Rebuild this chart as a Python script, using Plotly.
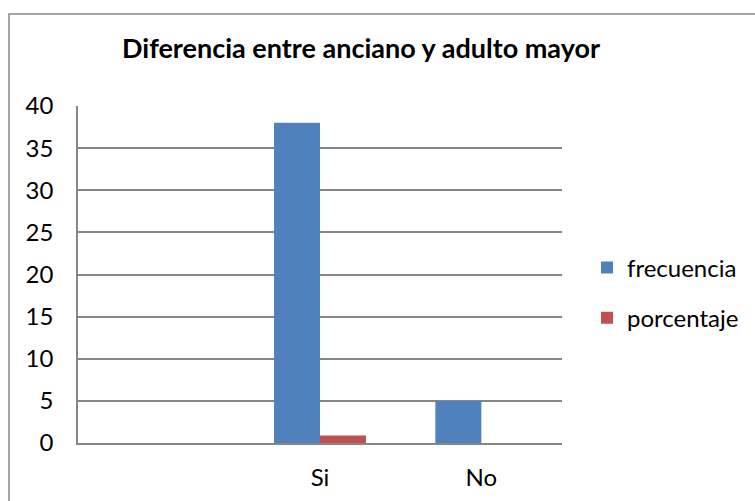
import plotly.graph_objects as go

categories = ["", "Si", "No"]
frecuencia = [None, 38, 5]
porcentaje = [None, 0.88, 0]
y_ticks = [0, 5, 10, 15, 20, 25, 30, 35, 40]

xpos = list(range(len(categories)))

fig = go.Figure()
fig.add_trace(go.Bar(x=xpos, y=frecuencia, name="frecuencia",
                     marker=dict(color="#4F81BD", line=dict(width=0)),
                     legendgroup="a"))
fig.add_trace(go.Bar(x=xpos, y=porcentaje, name="porcentaje",
                     marker=dict(color="#C0504D", line=dict(width=0)),
                     legendgroup="b"))

W, H = 755, 501
L, R, T, B = 78, 193, 106, 58
pw, ph = W - L - R, H - T - B

fig.update_layout(
    width=W, height=H,
    margin=dict(l=L, r=R, t=T, b=B, autoexpand=False),
    paper_bgcolor="white", plot_bgcolor="white",
    font=dict(family="Lato", size=24, color="black"),
    barmode="group", bargap=0.43, bargroupgap=0,
    title=dict(text="<b>Diferencia entre anciano y adulto mayor</b>",
               x=361 / W, xanchor="center", y=1 - 49 / H, yanchor="middle",
               font=dict(family="Lato", size=27, color="black")),
    showlegend=True,
    legend=dict(xref="container", yref="container",
                x=587 / W, xanchor="left", y=1 - 293 / H, yanchor="middle",
                traceorder="grouped", tracegroupgap=16,
                font=dict(size=24), bgcolor="rgba(0,0,0,0)"),
    xaxis=dict(range=[-0.5, len(categories) - 0.5],
               tickmode="array", tickvals=xpos, ticktext=categories,
               showline=True, linecolor="#868686", linewidth=1.5,
               showgrid=False, zeroline=False, ticks="", ticklabelstandoff=12),
    yaxis=dict(range=[0, 40], tickmode="array", tickvals=y_ticks,
               showline=True, linecolor="#868686", linewidth=1.5,
               showgrid=True, gridcolor="#868686", gridwidth=1.5,
               zeroline=False, ticks="", ticklabelstandoff=18),
    shapes=[dict(type="rect", xref="paper", yref="paper",
                 x0=(9 - L) / pw, x1=1.6, y0=-0.5, y1=(H - B - 14) / ph,
                 line=dict(color="#898989", width=1.5), fillcolor="rgba(0,0,0,0)",
                 layer="below")],
)

fig.write_html("out.html")
